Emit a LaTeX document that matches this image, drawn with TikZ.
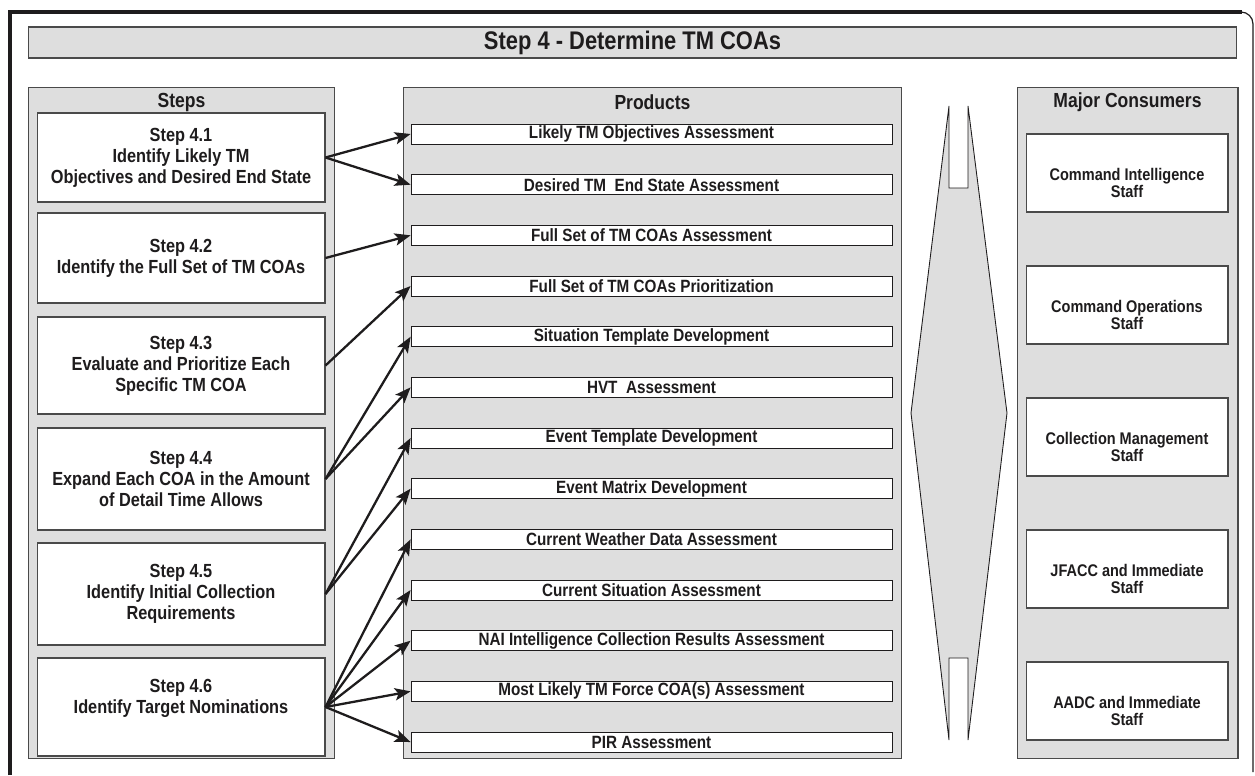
\documentclass[tikz,border=0pt]{standalone}
\usepackage{fontspec}
\setmainfont{Liberation Sans}[FakeStretch=0.86]
\usetikzlibrary{arrows.meta}

\definecolor{panelgray}{HTML}{DEDEDE}
\definecolor{ink}{HTML}{1E1C1D}
\definecolor{edge}{HTML}{4A4A4A}

\tikzset{
	panel/.style={draw=edge,fill=panelgray,line width=0.6pt,inner sep=0pt},
	head/.style={font=\fontsize{11.6}{13}\selectfont\bfseries,text=ink},
	stepbox/.style={draw=edge,fill=white,line width=0.6pt,minimum width=5.76cm,inner sep=0pt,
		align=center,font=\fontsize{10.8}{12}\selectfont\bfseries,text=ink},
	prodbox/.style={draw=ink,fill=white,line width=0.5pt,minimum width=9.62cm,minimum height=0.4cm,
		inner sep=0pt,font=\fontsize{10.1}{11}\selectfont\bfseries,text=ink},
	consbox/.style={draw=edge,fill=white,line width=0.6pt,minimum width=4.04cm,minimum height=1.56cm,inner sep=0pt},
	constext/.style={align=center,font=\fontsize{9.6}{10.2}\selectfont\bfseries,text=ink,yshift=-0.2cm},
	feed/.style={-{Stealth[length=9pt,width=7pt,inset=2pt]},line width=1.3pt,draw=ink},
}

\begin{document}
\begin{tikzpicture}[x=0.02cm,y=-0.02cm]
		\useasboundingbox (0,0) rectangle (1255,775);

		% outer frame
		\draw[line width=2.2pt,draw=ink] (10,775) -- (10,12) -- (1242,12);
		\draw[line width=0.7pt,draw=ink] (1241,12) to[out=0,in=90] (1253,24) -- (1253,772);

		\node[panel,minimum width=24.18cm,minimum height=0.62cm] (titlebar) at (632.5,42.5)
			{\fontsize{14.5}{16}\selectfont\bfseries\color{ink}Step 4 - Determine TM COAs};

		\node[panel,minimum width=6.14cm,minimum height=13.44cm] (steps) at (181.5,423) {};
		\node[panel,minimum width=9.98cm,minimum height=13.44cm] (products) at (652.5,423) {};
		\node[panel,minimum width=4.42cm,minimum height=13.44cm] (consumers) at (1127.5,423) {};

		\node[head] (hsteps) at (181.5,102) {Steps};
		\node[head] (hproducts) at (652.5,102) {Products};
		\node[head] (hconsumers) at (1127.5,102) {Major Consumers};

		% steps
		\node[stepbox,minimum height=1.78cm] (s1) at (181,157.5) {Step 4.1\\Identify Likely TM\\Objectives and Desired End State};
		\node[stepbox,minimum height=1.80cm] (s2) at (181,258) {Step 4.2\\Identify the Full Set of TM COAs};
		\node[stepbox,minimum height=1.94cm] (s3) at (181,365.5) {Step 4.3\\Evaluate and Prioritize Each\\Specific TM COA};
		\node[stepbox,minimum height=2.04cm] (s4) at (181,479) {Step 4.4\\Expand Each COA in the Amount\\of Detail Time Allows};
		\node[stepbox,minimum height=2.04cm] (s5) at (181,594) {Step 4.5\\Identify Initial Collection\\Requirements};
		\node[stepbox,minimum height=1.96cm] (s6) at (181,707) {Step 4.6\\Identify Target Nominations\\~};

		% products
		\foreach \prod [count=\i] in {Likely TM Objectives Assessment,
				Desired TM\ \ End State Assessment,
				Full Set of TM COAs Assessment,
				Full Set of TM COAs Prioritization,
				Situation Template Development,
				HVT\ \ Assessment,
				Event Template Development,
				Event Matrix Development,
				Current Weather Data Assessment,
				Current Situation Assessment,
				NAI Intelligence Collection Results Assessment,
				Most Likely TM Force COA(s) Assessment,
				PIR Assessment}
			\node[prodbox] (p\i) at (651.5,{134+50.67*(\i-1)}) {\prod};

		% consumers
		\foreach \who [count=\i] in {{Command Intelligence\\Staff},
				{Command Operations\\Staff},
				{Collection Management\\Staff},
				{JFACC and Immediate\\Staff},
				{AADC and Immediate\\Staff}}
			\node[consbox,label={[constext]center:\who}] (c\i) at (1127,{173+132*(\i-1)}) {};

		% flow marker between products and consumers
		\draw[fill=panelgray,draw=ink,line width=0.5pt] (949,106) -- (911,413) -- (949,740) -- (949,658)
			-- (968,658) -- (968,740) -- (1007,413) -- (968,106) -- (968,188) -- (949,188) -- cycle;

		% step -> product
		\draw[feed] (s1.east) -- (p1.west);
		\draw[feed] (s1.east) -- (p2.west);
		\draw[feed] (s2.east) -- (p3.west);
		\draw[feed] (s3.east) -- (p4.west);
		\draw[feed] (s4.east) -- (p5.west);
		\draw[feed] (s4.east) -- (p6.west);
		\draw[feed] (s5.east) -- (p7.west);
		\draw[feed] (s5.east) -- (p8.west);
		\foreach \j in {9,...,13}
			\draw[feed] (s6.east) -- (p\j.west);
	\end{tikzpicture}
\end{document}
